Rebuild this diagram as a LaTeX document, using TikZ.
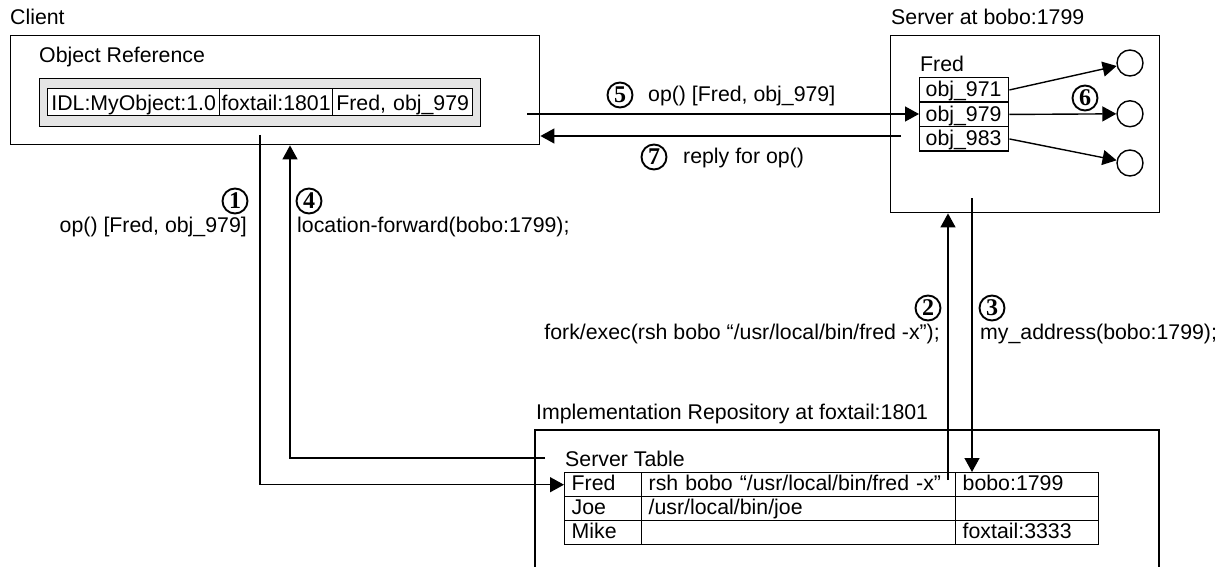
\documentclass[tikz,border=0pt]{standalone}
\usepackage{fontspec}
\setmainfont{Liberation Sans}
\newfontfamily\numfam{Liberation Serif}
\usetikzlibrary{arrows.meta}
\newcommand\mainsz{\fontsize{21.3pt}{25pt}\selectfont}
\newcommand\numsz{\fontsize{24pt}{24pt}\selectfont\numfam\bfseries}
\tikzset{
  ln/.style={line width=1.4pt},
  box/.style={draw, ln, inner sep=0pt, anchor=north west},
  lbl/.style={anchor=base west, inner sep=0pt},
  lble/.style={anchor=base east, inner sep=0pt},
  arr/.style={ln, -{Triangle[length=14pt,width=15pt]}},
  num/.style={circle, draw, line width=1.9pt, minimum size=25pt, inner sep=0pt, font=\numsz},
  idlcell/.style={draw, fill=white, ln, anchor=north west, inner xsep=0pt, inner ysep=0pt,
    text height=22pt, text depth=5pt, align=center},
  objcell/.style={draw, ln, anchor=north west, inner xsep=6pt, inner ysep=0pt,
    text height=19pt, text depth=5.5pt, align=left, text width=77pt},
  stcell/.style={draw, ln, anchor=north west, inner xsep=7pt, inner ysep=0pt,
    text height=18pt, text depth=6pt, align=left},
  endpt/.style={circle, draw, ln, minimum size=26pt, inner sep=0pt}
}
\begin{document}
\begin{tikzpicture}[x=1pt, y=-1pt, font=\mainsz]
\useasboundingbox (0,0) rectangle (1226,567);

% ---------- Client ----------
\node[lbl] (clientlbl) at (10,25) {Client};
\node[box, minimum width=529pt, minimum height=109pt] (client) at (10,35) {};
\node[lbl] (objref) at (39,63) {Object Reference};
\node[box, fill=gray!20, minimum width=441pt, minimum height=48pt] (gray) at (39,78) {};
\node[idlcell, text width=172pt] (idl) at (47,88) {IDL:MyObject:1.0};
\node[idlcell, text width=113pt] (fox) at (219,88) {foxtail:1801};
\node[idlcell, text width=140pt] (fo) at (332,88) {Fred, obj\_979};

% ---------- Server ----------
\node[lbl] (serverlbl) at (891,25) {Server at bobo:1799};
\node[box, minimum width=269pt, minimum height=177pt] (server) at (890,35) {};
\node[lbl] (fredlbl) at (920,72) {Fred};
\node[objcell] (o971) at (919,77) {obj\_971};
\node[objcell] (o979) at (919,101.5) {obj\_979};
\node[objcell] (o983) at (919,126) {obj\_983};
\node[endpt] (c1) at (1130,63) {};
\node[endpt] (c2) at (1130,113.75) {};
\node[endpt] (c3) at (1130,163) {};
\draw[arr] (o971.east) -- (c1);
\draw[arr] (o979.east) -- (c2);
\draw[arr] (o983.east) -- (c3);
\node[num] (n6) at (1085,98) {6};

% ---------- Implementation Repository ----------
\node[lbl] (repolbl) at (536,419) {Implementation Repository at foxtail:1801};
\draw[ln] (535,580) -- (535,430) -- (1159,430) -- (1159,580);
\node[lbl] (stlbl) at (565,466) {Server Table};
\node[stcell, text width=63pt] (tFred) at (564,472) {Fred};
\node[stcell, text width=300pt] (tFredCmd) at (641,472) {rsh bobo “/usr/local/bin/fred -x”};
\node[stcell, text width=129pt] (tFredHost) at (955,472) {bobo:1799};
\node[stcell, text width=63pt] (tJoe) at (564,496) {Joe};
\node[stcell, text width=300pt] (tJoeCmd) at (641,496) {/usr/local/bin/joe};
\node[stcell, text width=129pt] (tJoeHost) at (955,496) {};
\node[stcell, text width=63pt] (tMike) at (564,520) {Mike};
\node[stcell, text width=300pt] (tMikeCmd) at (641,520) {};
\node[stcell, text width=129pt] (tMikeHost) at (955,520) {foxtail:3333};

% ---------- Connectors ----------
% 1
\coordinate (a1s) at (260,135);
\draw[arr] (a1s) |- (tFred.west);
\node[num] (n1) at (235,201) {1};
\node[lble] (t1) at (247,232) {op() [Fred, obj\_979]};
% 4
\coordinate (a4s) at (545,458);
\coordinate (a4x) at (290,458);
\draw[arr] (a4s) -- (a4x) -- (a4x |- client.south);
\node[num] (n4) at (309,201) {4};
\node[lbl] (t4) at (297,232) {location-forward(bobo:1799);};
% 2
\coordinate (a2s) at (948,480);
\draw[arr] (a2s) -- (a2s |- server.south);
\node[num] (n2) at (928,308) {2};
\node[lble] (t2) at (940,339) {fork/exec(rsh bobo “/usr/local/bin/fred -x”);};
% 3
\coordinate (a3s) at (972,198);
\draw[arr] (a3s) -- (a3s |- tFredHost.north);
\node[num] (n3) at (992,308) {3};
\node[lbl] (t3) at (980,339) {my\_address(bobo:1799);};
% 5
\coordinate (a5s) at (527,114);
\draw[arr] (a5s) -- (a5s -| o979.west);
\node[num] (n5) at (620,95) {5};
\node[lbl] (t5) at (648,102) {op() [Fred, obj\_979]};
% 7
\coordinate (a7s) at (901,136);
\draw[arr] (a7s) -- (a7s -| client.east);
\node[num] (n7) at (654,157) {7};
\node[lbl] (t7) at (683,164) {reply for op()};
\end{tikzpicture}
\end{document}
